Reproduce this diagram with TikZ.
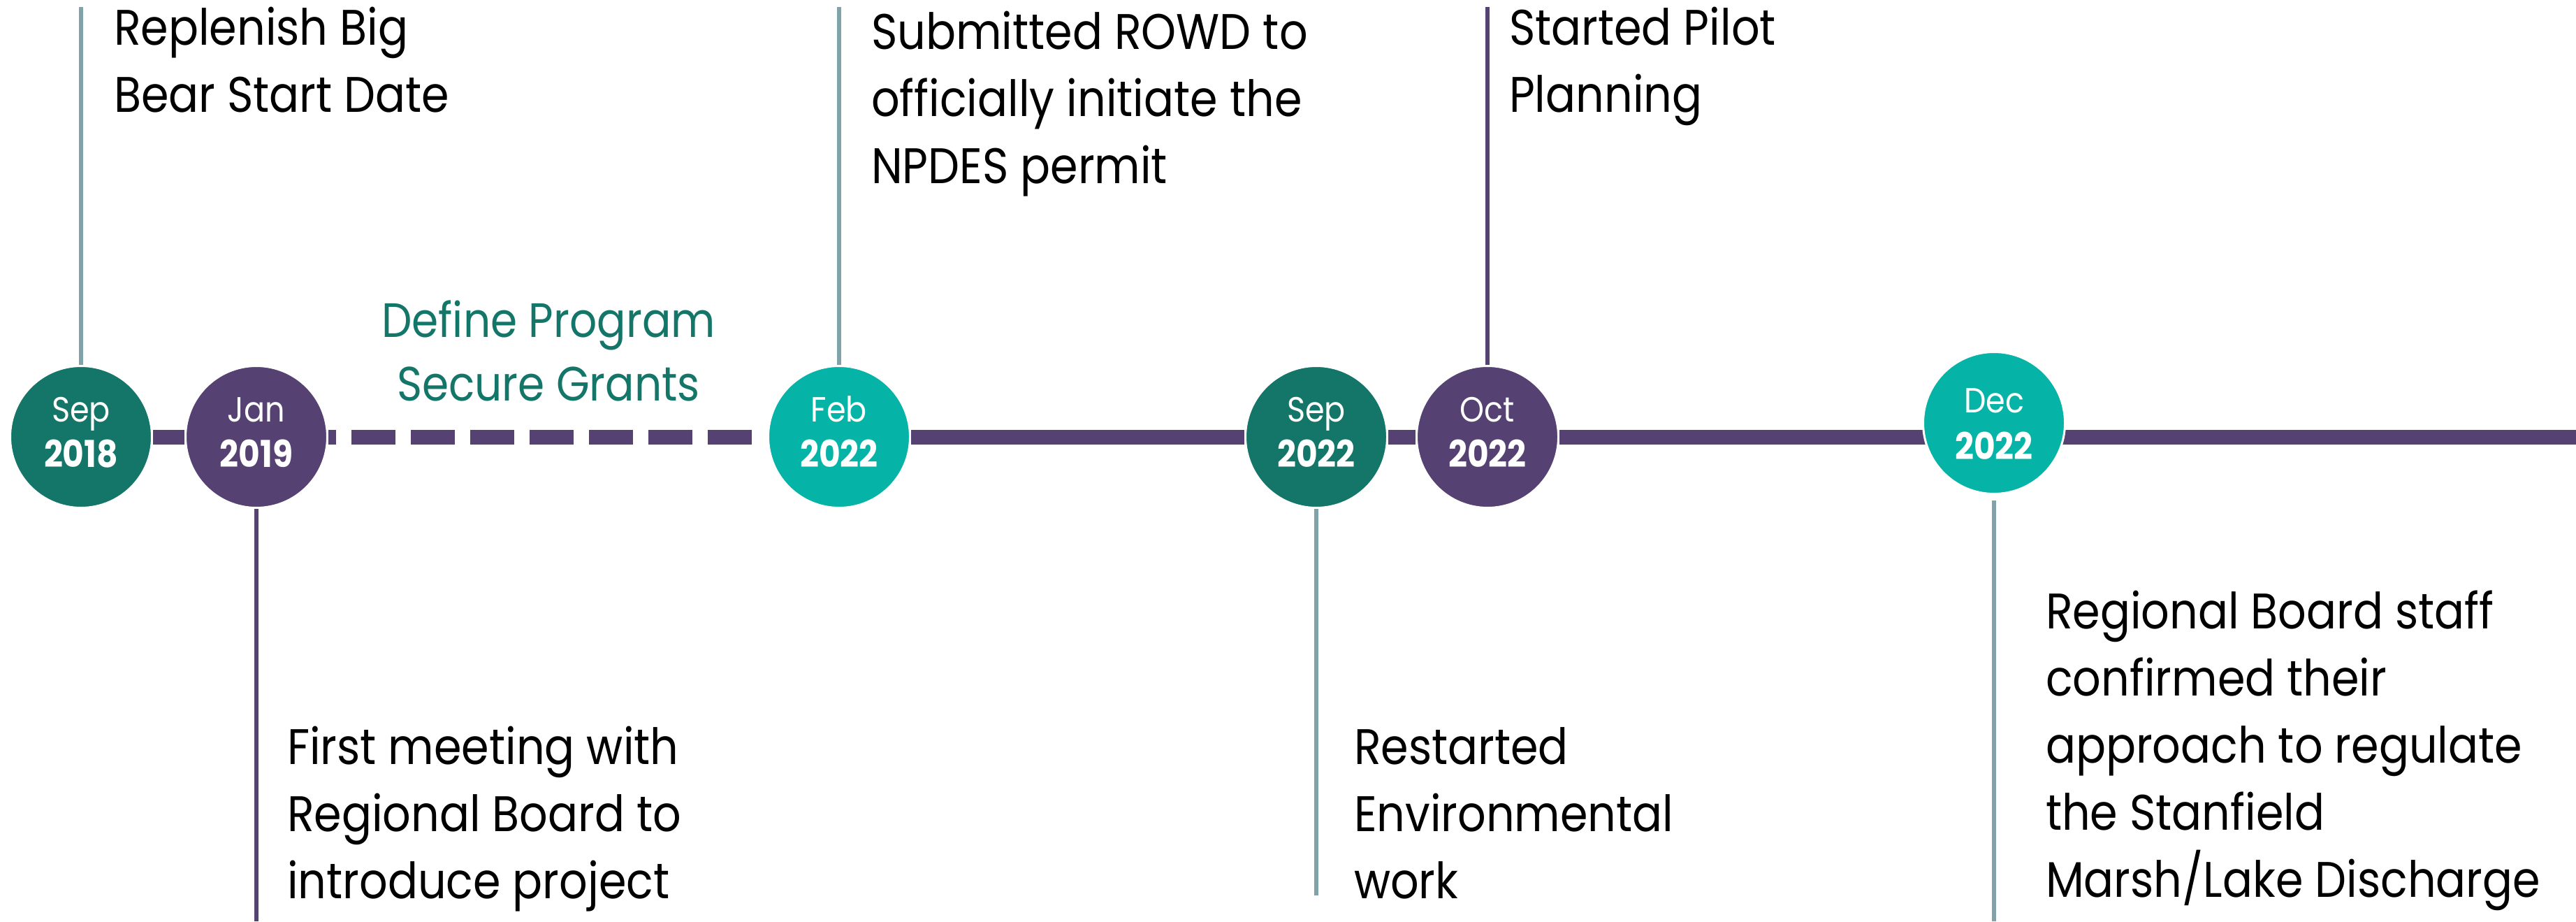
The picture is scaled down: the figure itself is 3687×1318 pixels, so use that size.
\documentclass[tikz,border=0pt]{standalone}
\usepackage{fontspec}
\setmainfont{Poppins}[FakeStretch=0.89]
\definecolor{dteal}{HTML}{137668}
\definecolor{purp}{HTML}{564272}
\definecolor{bteal}{HTML}{05B4A6}
\definecolor{conn}{HTML}{7FA3A8}
\begin{document}
\begin{tikzpicture}[x=0.2pt,y=-0.2pt,
  dot/.style={circle,minimum size=40.6pt,inner sep=0pt,draw=white,line width=0.6pt},
  tl/.style={draw=purp,line width=4.2pt},
  stem/.style={line width=1.2pt},
  mon/.style={anchor=base,text=white,inner sep=0pt,font=\fontsize{10pt}{10pt}\selectfont},
  yr/.style={anchor=base,text=white,inner sep=0pt,font=\fontsize{10.6pt}{10pt}\selectfont\bfseries},
  desc/.style={anchor=base west,align=left,inner sep=0pt,font=\fontsize{14.3pt}{19.2pt}\selectfont},
  phase/.style={anchor=base,align=center,inner sep=0pt,text=dteal,font=\fontsize{13.8pt}{18.2pt}\selectfont}
]
\useasboundingbox (0,0) rectangle (3687,1318);

% circles (except Dec)
\node[dot,fill=dteal] (sep18) at (116,625) {};
\node[dot,fill=purp] (jan19) at (367,625) {};
\node[dot,fill=bteal] (feb22) at (1201,625) {};
\node[dot,fill=dteal] (sep22) at (1884,625) {};
\node[dot,fill=purp] (oct22) at (2129,625) {};

\coordinate (lineend) at (3687,625);

% timeline
\draw[tl] (sep18) -- (jan19);
\draw[tl,dash pattern=on 12.6pt off 4.4pt,dash phase=12.6pt] (feb22) -- (jan19);
\draw[tl] (feb22) -- (sep22);
\draw[tl] (sep22) -- (oct22);
\draw[tl] (oct22) -- (lineend);

\node[dot,fill=bteal] (dec22) at (2854,605) {};

% stems
\coordinate (sep18top) at (116,10);
\coordinate (jan19bot) at (367,1318);
\coordinate (feb22top) at (1201,10);
\coordinate (sep22bot) at (1884,1281);
\coordinate (oct22top) at (2129,10);
\coordinate (dec22bot) at (2854,1318);
\draw[stem,conn] (sep18) -- (sep18top);
\draw[stem,purp] (jan19) -- (jan19bot);
\draw[stem,conn] (feb22) -- (feb22top);
\draw[stem,conn] (sep22) -- (sep22bot);
\draw[stem,purp] (oct22) -- (oct22top);
\draw[stem,conn,shorten <=1.6pt] (dec22) -- (dec22bot);

% dates
\node[mon] (m1) at (116,603) {Sep};
\node[yr]  (y1) at (116,668) {2018};
\node[mon] (m2) at (367,603) {Jan};
\node[yr]  (y2) at (367,668) {2019};
\node[mon] (m3) at (1201,603) {Feb};
\node[yr]  (y3) at (1201,668) {2022};
\node[mon] (m4) at (1884,603) {Sep};
\node[yr]  (y4) at (1884,668) {2022};
\node[mon] (m5) at (2129,603) {Oct};
\node[yr]  (y5) at (2129,668) {2022};
\node[mon] (m6) at (2854,590) {Dec};
\node[yr]  (y6) at (2854,657) {2022};

% descriptions (anchored at the baseline of their last line)
\node[desc] (t1) at (162,161) {Replenish Big\\Bear Start Date};
\node[phase] (t2) at (785,573) {Define Program\\Secure Grants};
\node[desc] (t3) at (1246,263) {Submitted ROWD to\\officially initiate the\\NPDES permit};
\node[desc] (t4) at (2159,161) {Started Pilot\\Planning};
\node[desc] (t5) at (410,1285) {First meeting with\\Regional Board to\\introduce project};
\node[desc] (t6) at (1937,1285) {Restarted\\Environmental\\work};
\node[desc] (t7) at (2927,1283) {Regional Board staff\\confirmed their\\approach to regulate\\the Stanfield\\Marsh/Lake Discharge};
\end{tikzpicture}
\end{document}
